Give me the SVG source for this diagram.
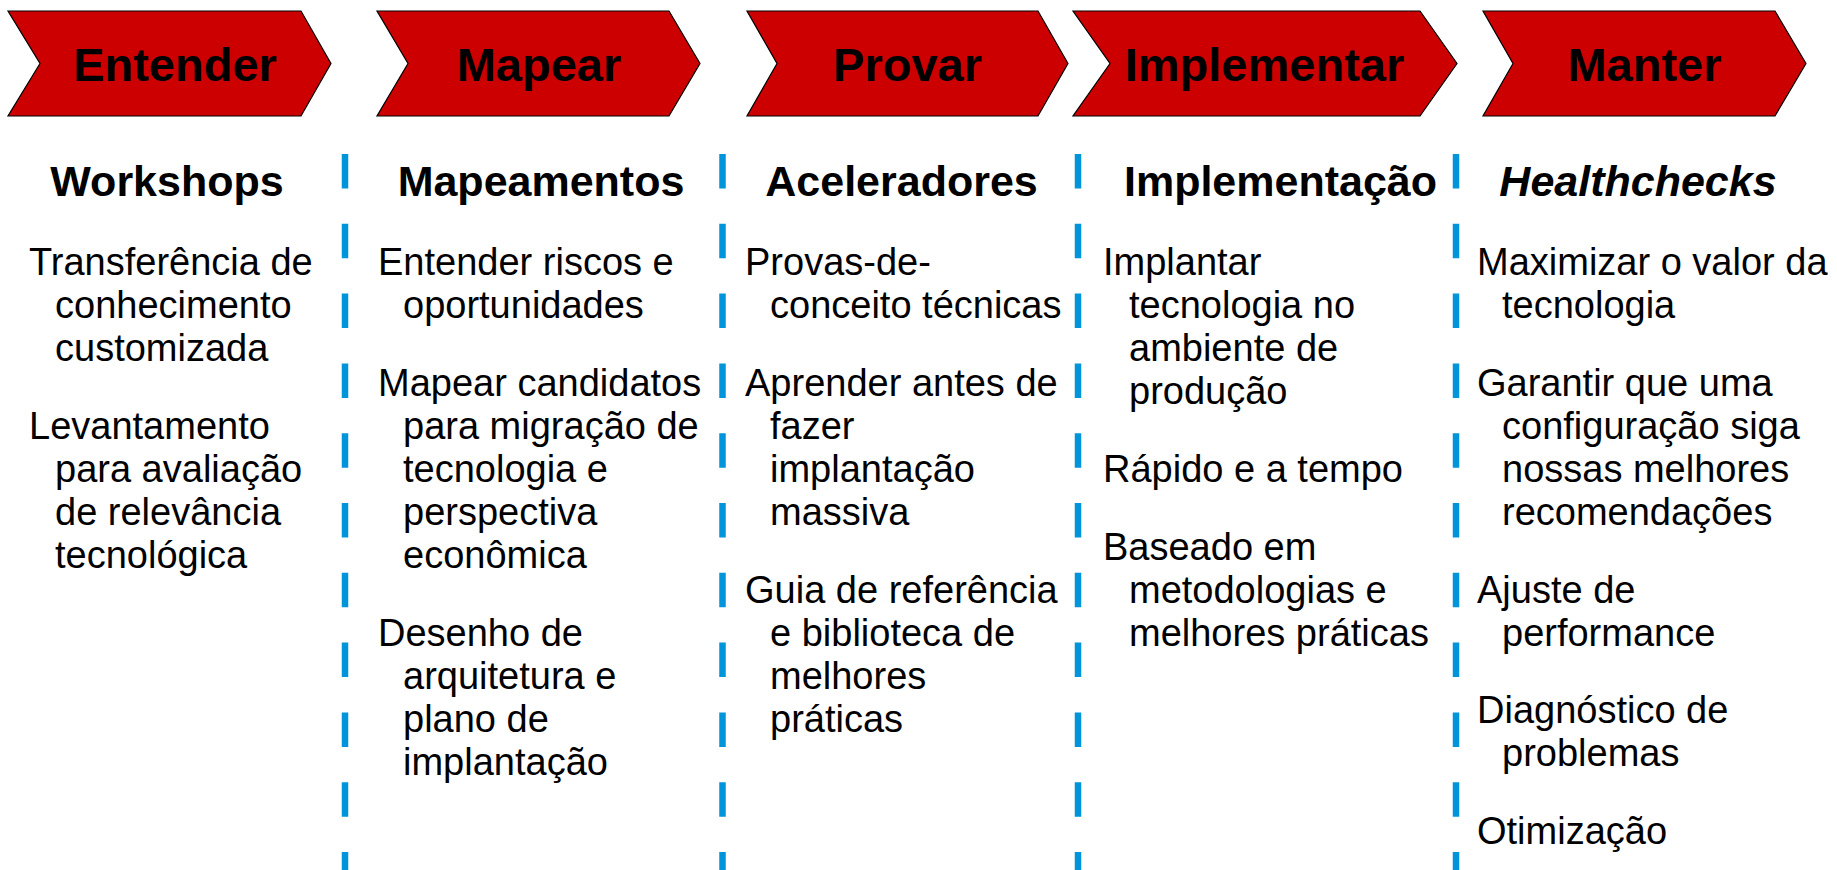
<svg xmlns="http://www.w3.org/2000/svg" width="1837" height="870" viewBox="0 0 1837 870">
<style>
.chev{fill:#CC0000;stroke:#000;stroke-width:1.2;stroke-linejoin:miter}
.ct{font-family:"Liberation Sans",Arial,sans-serif;font-weight:bold;font-size:47px;fill:#000;text-anchor:middle}
.hd{font-family:"Liberation Sans",Arial,sans-serif;font-weight:bold;font-size:43px;fill:#000;text-anchor:middle}
.bd{font-family:"Liberation Sans",Arial,sans-serif;font-size:38px;fill:#000}
.sep{stroke:#0095DA;stroke-width:6.5;stroke-dasharray:34.5 35.3;fill:none}
</style>
<rect width="1837" height="870" fill="#fff"/>

<g id="separators">
<line class="sep" x1="345" y1="154" x2="345" y2="870"/>
<line class="sep" x1="722.5" y1="154" x2="722.5" y2="870"/>
<line class="sep" x1="1078" y1="154" x2="1078" y2="870"/>
<line class="sep" x1="1456" y1="154" x2="1456" y2="870"/>
</g>

<g id="entender">
<polygon class="chev" points="8,11 301,11 331,63.5 301,116 8,116 40,63.5"/>
<text class="ct" x="175" y="81">Entender</text>
<text class="hd" x="167" y="196">Workshops</text>
<text class="bd">
<tspan x="29" y="275">Transferência de</tspan>
<tspan x="55" y="318">conhecimento</tspan>
<tspan x="55" y="361">customizada</tspan>
<tspan x="29" y="438.5">Levantamento</tspan>
<tspan x="55" y="481.5">para avaliação</tspan>
<tspan x="55" y="524.5">de relevância</tspan>
<tspan x="55" y="567.5">tecnológica</tspan>
</text>
</g>

<g id="mapear">
<polygon class="chev" points="377,11 669,11 700,63.5 669,116 377,116 408,63.5"/>
<text class="ct" x="539" y="81">Mapear</text>
<text class="hd" x="541" y="196">Mapeamentos</text>
<text class="bd">
<tspan x="378" y="275">Entender riscos e</tspan>
<tspan x="403" y="318">oportunidades</tspan>
<tspan x="378" y="395.5">Mapear candidatos</tspan>
<tspan x="403" y="438.5">para migração de</tspan>
<tspan x="403" y="481.5">tecnologia e</tspan>
<tspan x="403" y="524.5">perspectiva</tspan>
<tspan x="403" y="567.5">econômica</tspan>
<tspan x="378" y="645.5">Desenho de</tspan>
<tspan x="403" y="688.5">arquitetura e</tspan>
<tspan x="403" y="731.5">plano de</tspan>
<tspan x="403" y="774.5">implantação</tspan>
</text>
</g>

<g id="provar">
<polygon class="chev" points="747,11 1038,11 1068,63.5 1038,116 747,116 777,63.5"/>
<text class="ct" x="907.5" y="81">Provar</text>
<text class="hd" x="901.5" y="196">Aceleradores</text>
<text class="bd">
<tspan x="745" y="275">Provas-de-</tspan>
<tspan x="770" y="318">conceito técnicas</tspan>
<tspan x="745" y="395.5">Aprender antes de</tspan>
<tspan x="770" y="438.5">fazer</tspan>
<tspan x="770" y="481.5">implantação</tspan>
<tspan x="770" y="524.5">massiva</tspan>
<tspan x="745" y="602.5">Guia de referência</tspan>
<tspan x="770" y="645.5">e biblioteca de</tspan>
<tspan x="770" y="688.5">melhores</tspan>
<tspan x="770" y="731.5">práticas</tspan>
</text>
</g>

<g id="implementar">
<polygon class="chev" points="1073,11 1420,11 1457,63.5 1420,116 1073,116 1110,63.5"/>
<text class="ct" x="1264.5" y="81">Implementar</text>
<text class="hd" x="1280.5" y="196">Implementação</text>
<text class="bd">
<tspan x="1103" y="275">Implantar</tspan>
<tspan x="1129" y="318">tecnologia no</tspan>
<tspan x="1129" y="361">ambiente de</tspan>
<tspan x="1129" y="404">produção</tspan>
<tspan x="1103" y="481.5">Rápido e a tempo</tspan>
<tspan x="1103" y="559.5">Baseado em</tspan>
<tspan x="1129" y="602.5">metodologias e</tspan>
<tspan x="1129" y="645.5">melhores práticas</tspan>
</text>
</g>

<g id="manter">
<polygon class="chev" points="1483,11 1775,11 1806,63.5 1775,116 1483,116 1513,63.5"/>
<text class="ct" x="1644.5" y="81">Manter</text>
<text class="hd" x="1638" y="196" font-style="italic">Healthchecks</text>
<text class="bd">
<tspan x="1477" y="275">Maximizar o valor da</tspan>
<tspan x="1502" y="318">tecnologia</tspan>
<tspan x="1477" y="395.5">Garantir que uma</tspan>
<tspan x="1502" y="438.5">configuração siga</tspan>
<tspan x="1502" y="481.5">nossas melhores</tspan>
<tspan x="1502" y="524.5">recomendações</tspan>
<tspan x="1477" y="602.5">Ajuste de</tspan>
<tspan x="1502" y="645.5">performance</tspan>
<tspan x="1477" y="723">Diagnóstico de</tspan>
<tspan x="1502" y="766">problemas</tspan>
<tspan x="1477" y="844">Otimização</tspan>
</text>
</g>
</svg>
